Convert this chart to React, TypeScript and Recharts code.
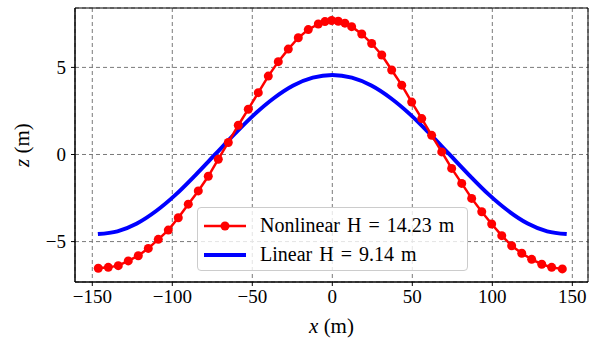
import React from "react";
import {
    ComposedChart,
    Line,
    XAxis,
    YAxis,
    CartesianGrid,
    ReferenceArea,
} from "recharts";

// nonlinear solution (x in m, z in m)
const nonlinearX = [
    -146.25, -140, -133.75, -127.5, -121.25, -115, -108.75, -102.5, -96.25, -90,
    -83.75, -77.5, -71.25, -65, -58.75, -52.5, -46.25, -40, -33.75, -27.5,
    -21.25, -15, -8.75, -4.6, -0.4, 3.75, 7.9, 12.1, 18.4, 24.6,
    30.9, 37.1, 43.4, 49.6, 55.9, 62.1, 68.4, 74.6, 80.9, 87.1,
    93.4, 99.6, 105.9, 112.1, 118.4, 124.6, 130.9, 137.1, 143.75,
];
const nonlinearZ = [
    -6.53, -6.48, -6.38, -6.11, -5.81, -5.39, -4.87, -4.34, -3.63, -2.85,
    -2.09, -1.25, -0.27, 0.69, 1.68, 2.6, 3.55, 4.5, 5.33, 6.05,
    6.7, 7.17, 7.49, 7.63, 7.69, 7.65, 7.54, 7.34, 6.92, 6.37,
    5.71, 4.85, 3.98, 3.01, 2.06, 1.1, 0.15, -0.8, -1.66, -2.52,
    -3.29, -3.99, -4.66, -5.24, -5.67, -6.02, -6.3, -6.48, -6.57,
];

// linear solution
const linearX = [
    -146.5, -134.3, -122.1, -109.9, -97.7, -85.5, -73.25, -61, -48.8, -36.6,
    -24.4, -12.2, 0, 12.2, 24.4, 36.6, 48.8, 61, 73.25, 85.5,
    97.7, 109.9, 122.1, 134.3, 146.5,
];
const linearZ = [
    -4.57, -4.41, -3.96, -3.23, -2.29, -1.18, 0, 1.18, 2.29, 3.23,
    3.96, 4.41, 4.57, 4.41, 3.96, 3.23, 2.29, 1.18, 0, -1.18,
    -2.29, -3.23, -3.96, -4.41, -4.57,
];

const xTicks = [-150, -100, -50, 0, 50, 100, 150];
const yTicks = [-5, 0, 5];

const nonlinear = nonlinearX.map((x, i) => ({ x, z: nonlinearZ[i] }));
const linear = linearX.map((x, i) => ({ x, z: linearZ[i] }));

const X_DOMAIN: [number, number] = [-160.8, 159.8];
const Y_DOMAIN: [number, number] = [-7.32, 8.41];

const FONT = "Liberation Serif";

const fmt = (v: number) => (v < 0 ? "\u2212" + Math.abs(v) : String(v));

const XLabel = ({ viewBox }: any) => {
    const cx = viewBox.x + viewBox.width / 2;
    return (
        <text x={cx} y={333} textAnchor="middle" fontSize={21} fontFamily={FONT} fill="#000">
            <tspan fontStyle="italic">x</tspan> (m)
        </text>
    );
};

const YLabel = ({ viewBox }: any) => {
    const cy = viewBox.y + viewBox.height / 2;
    return (
        <text
            x={29}
            y={cy}
            textAnchor="middle"
            fontSize={21}
            fontFamily={FONT}
            fill="#000"
            transform={`rotate(-90 29 ${cy})`}
        >
            <tspan fontStyle="italic">z</tspan> (m)
        </text>
    );
};

const LegendBox = () => (
    <div
        style={{
            position: "absolute",
            left: 197,
            top: 207,
            width: 271,
            height: 64,
            boxSizing: "border-box",
            background: "rgba(255,255,255,0.8)",
            border: "1px solid #cccccc",
            borderRadius: 4,
            fontFamily: FONT,
            fontSize: 20,
            wordSpacing: 2,
            color: "#000",
            padding: "3px 0 0 6px",
        }}
    >
        <div style={{ display: "flex", alignItems: "center", height: 29 }}>
            <svg width={42} height={12} style={{ marginRight: 14 }}>
                <line x1={0} y1={6} x2={42} y2={6} stroke="#ff0000" strokeWidth={2.5} />
                <circle cx={21} cy={6} r={4.5} fill="#ff0000" />
            </svg>
            <span>Nonlinear H = 14.23 m</span>
        </div>
        <div style={{ display: "flex", alignItems: "center", height: 29 }}>
            <svg width={42} height={12} style={{ marginRight: 14 }}>
                <line x1={0} y1={6} x2={42} y2={6} stroke="#0000ff" strokeWidth={4} />
            </svg>
            <span>Linear H = 9.14 m</span>
        </div>
    </div>
);

export default function App() {
    return (
        <div style={{ position: "absolute", left: 0, top: 0, width: 598, height: 345, background: "#fff" }}>
            <ComposedChart
                width={598}
                height={345}
                margin={{ top: 8, right: 10, left: 0, bottom: 0 }}
                style={{ fontFamily: FONT }}
            >
                <CartesianGrid stroke="#7a7a7a" strokeDasharray="4 3" strokeWidth={1} />
                <XAxis
                    dataKey="x"
                    type="number"
                    domain={X_DOMAIN}
                    ticks={xTicks}
                    tickFormatter={fmt}
                    allowDataOverflow
                    height={63}
                    tickSize={4}
                    tickMargin={4}
                    stroke="#000"
                    tick={{ fill: "#000", fontSize: 19, fontFamily: FONT }}
                    label={<XLabel />}
                />
                <YAxis
                    dataKey="z"
                    type="number"
                    domain={Y_DOMAIN}
                    ticks={yTicks}
                    tickFormatter={fmt}
                    allowDataOverflow
                    width={75}
                    tickSize={4}
                    tickMargin={5}
                    stroke="#000"
                    tick={{ fill: "#000", fontSize: 19, fontFamily: FONT }}
                    label={<YLabel />}
                />
                <ReferenceArea
                    x1={X_DOMAIN[0]}
                    x2={X_DOMAIN[1]}
                    y1={Y_DOMAIN[0]}
                    y2={Y_DOMAIN[1]}
                    fill="none"
                    stroke="#000"
                    strokeWidth={1}
                />
                <Line
                    data={linear}
                    dataKey="z"
                    type="monotone"
                    stroke="#0000ff"
                    strokeWidth={4}
                    dot={false}
                    isAnimationActive={false}
                />
                <Line
                    data={nonlinear}
                    dataKey="z"
                    type="linear"
                    stroke="#ff0000"
                    strokeWidth={2.5}
                    dot={{ r: 4.5, fill: "#ff0000", stroke: "none" }}
                    isAnimationActive={false}
                />
            </ComposedChart>
            <LegendBox />
        </div>
    );
}
